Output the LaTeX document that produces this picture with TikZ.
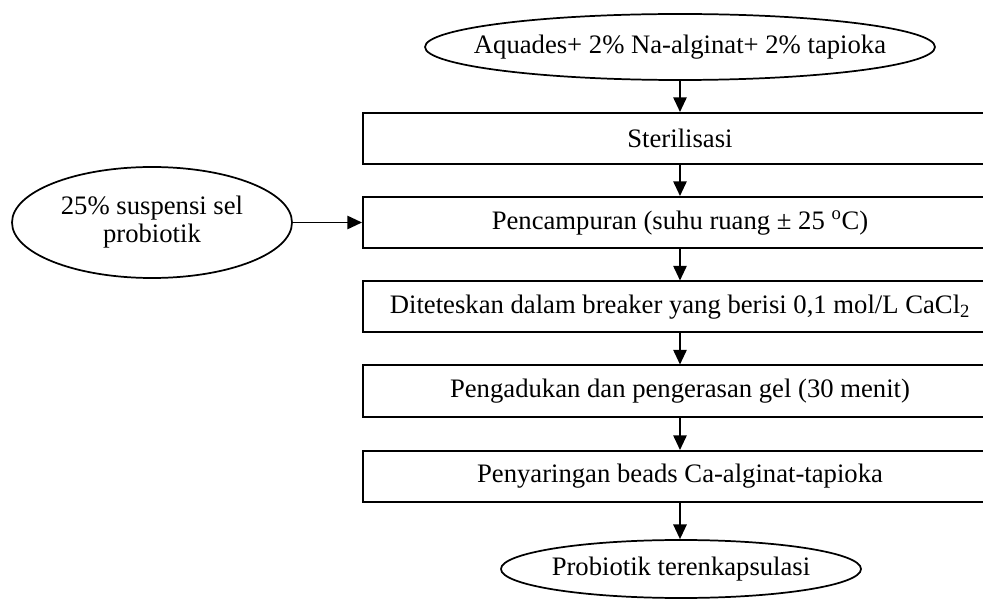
\documentclass[tikz,border=0pt]{standalone}
\usepackage{fontspec}
\setmainfont{Liberation Serif}
\usetikzlibrary{shapes.geometric,arrows.meta}
\begin{document}
\begin{tikzpicture}[x=0.75pt,y=-0.75pt,line width=1.3pt,
  every node/.style={font=\fontsize{20}{21}\selectfont},
  procbox/.style={draw,rectangle,line width=1.5pt,minimum width=475.5pt,minimum height=38.25pt,inner sep=0pt},
  ellshape/.style={draw,ellipse,inner sep=0pt},
  txt/.style={draw=none,inner sep=0pt,align=center},
  flow/.style={-{Triangle[width=10pt,length=11pt]}}]
\useasboundingbox (0,0) rectangle (983,599);
\clip (0,0) rectangle (983,599);
% ellipses
\node[ellshape,minimum width=382.5pt,minimum height=49.5pt] (top) at (680,47) {};
\node[txt] (toptext) at (top.center) {Aquades+ 2\% Na-alginat+ 2\% tapioka};
\node[ellshape,minimum width=210pt,minimum height=83.25pt] (left) at (152,222.5) {};
\node[txt] (lefttext) at (left.center) {25\% suspensi sel\\probiotik};
\node[ellshape,minimum width=270pt,minimum height=43.5pt] (bot) at (681,569) {};
\node[txt] (bottext) at (bot.center) {Probiotik terenkapsulasi};
% boxes
\node[procbox] (b1) at (680,138.5) {Sterilisasi};
\node[procbox] (b2) at (680,222.5) {Pencampuran (suhu ruang ± 25 \textsuperscript{o}C)};
\node[procbox] (b3) at (680,307) {Diteteskan dalam breaker yang berisi 0,1 mol/L CaCl\textsubscript{2}};
\node[procbox] (b4) at (680,391) {Pengadukan dan pengerasan gel (30 menit)};
\node[procbox] (b5) at (680,476.5) {Penyaringan beads Ca-alginat-tapioka};
% arrows
\draw[flow] (top.south) -- (b1.north);
\draw[flow] (b1.south) -- (b2.north);
\draw[flow] (left.east) -- (b2.west);
\draw[flow] (b2.south) -- (b3.north);
\draw[flow] (b3.south) -- (b4.north);
\draw[flow] (b4.south) -- (b5.north);
\draw[flow] (b5.south) -- (b5.south |- bot.north);
\end{tikzpicture}
\end{document}
